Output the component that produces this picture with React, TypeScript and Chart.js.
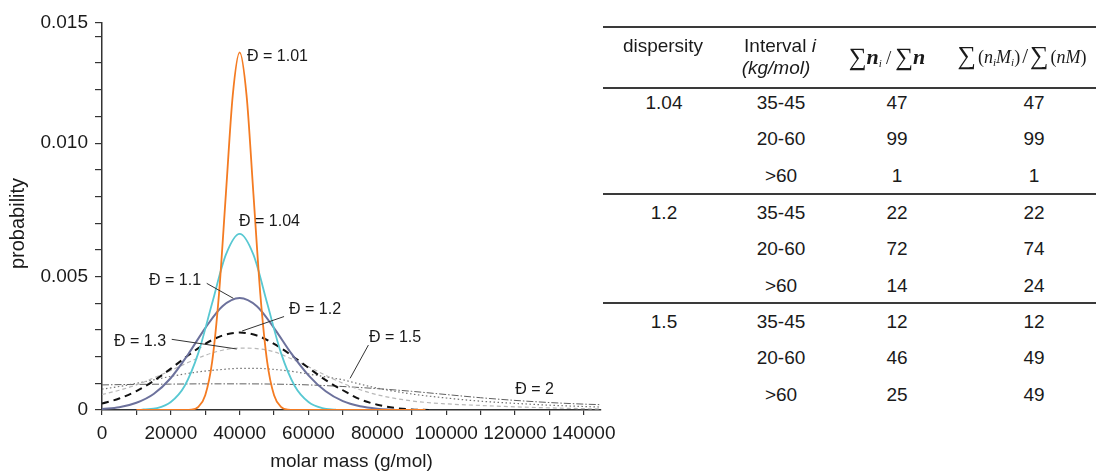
import React, { useEffect, useRef } from 'react';
import { Chart, registerables } from 'chart.js';

Chart.register(...registerables);

const FONT = '"Liberation Sans", Arial, Helvetica, sans-serif';
const SERIF = '"Liberation Serif", "Times New Roman", serif';

// ---- curve data (molar mass g/mol -> probability) ----
const massD101 = [10000, 20000, 24000, 26000, 28000, 30000, 32000, 34000, 36000, 38000, 40000, 42000, 44000, 46000, 48000, 50000, 52000, 54000, 56000, 60000, 94000];
const probD101 = [0, 0, 0, 0.00001, 0.00012, 0.00055, 0.0018, 0.00435, 0.0081, 0.0118, 0.0134, 0.0118, 0.0081, 0.00435, 0.0018, 0.00055, 0.00012, 0.00001, 0, 0, 0];

const massD104 = [11000, 12000, 16000, 20000, 24000, 28000, 32000, 36000, 40000, 44000, 48000, 52000, 56000, 60000, 64000, 68000];
const probD104 = [0, 0.00002, 0.00007, 0.0003, 0.0009, 0.00214, 0.004, 0.00582, 0.0066, 0.00582, 0.004, 0.00214, 0.0009, 0.0003, 0.00007, 0.00001];

const massD11 = [0, 5000, 10000, 15000, 20000, 25000, 30000, 35000, 40000, 45000, 50000, 55000, 60000, 65000, 70000, 75000, 80000, 85000];
const probD11 = [0.00004, 0.0001, 0.00027, 0.0006, 0.0012, 0.00208, 0.00307, 0.00389, 0.0042, 0.00389, 0.00307, 0.00212, 0.0013, 0.0007, 0.00033, 0.00014, 0.00005, 0.00001];

const massD12 = [0, 5000, 10000, 15000, 20000, 25000, 30000, 35000, 40000, 45000, 50000, 55000, 60000, 65000, 70000, 75000, 80000, 85000, 90000, 95000];
const probD12 = [0.00024, 0.00043, 0.00071, 0.00109, 0.00155, 0.00204, 0.00248, 0.00279, 0.0029, 0.00279, 0.00248, 0.00205, 0.00158, 0.00112, 0.00074, 0.0004, 0.0002, 0.00008, 0.00002, 0];

const massD13 = [0, 5000, 10000, 15000, 20000, 25000, 30000, 35000, 40000, 45000, 50000, 55000, 60000, 65000, 70000, 75000, 80000, 90000, 100000, 110000, 120000, 130000, 140000, 145000];
const probD13 = [0.00058, 0.00074, 0.00094, 0.0012, 0.00148, 0.00178, 0.00205, 0.00224, 0.00232, 0.0023, 0.00218, 0.00192, 0.00162, 0.0013, 0.001, 0.00076, 0.00057, 0.00034, 0.00023, 0.00017, 0.00012, 0.00008, 0.00005, 0.00004];

const massD15 = [0, 5000, 10000, 15000, 20000, 25000, 30000, 35000, 40000, 45000, 50000, 55000, 60000, 65000, 70000, 75000, 80000, 90000, 100000, 110000, 120000, 130000, 140000, 145000];
const probD15 = [0.00078, 0.00088, 0.001, 0.00113, 0.00126, 0.00137, 0.00146, 0.00152, 0.00156, 0.00156, 0.00152, 0.00145, 0.00135, 0.00124, 0.00113, 0.00097, 0.00082, 0.0006, 0.00045, 0.00033, 0.00025, 0.00018, 0.00013, 0.00011];

const massD2 = [0, 10000, 20000, 30000, 40000, 50000, 60000, 70000, 80000, 90000, 100000, 110000, 120000, 130000, 140000, 145000];
const probD2 = [0.00094, 0.00096, 0.00097, 0.00098, 0.00098, 0.00097, 0.00094, 0.00088, 0.0008, 0.0007, 0.00058, 0.00046, 0.00036, 0.00028, 0.00022, 0.0002];

// ---- axis ticks ----
const xTickValues = [0, 10000, 20000, 30000, 40000, 50000, 60000, 70000, 80000, 90000, 100000, 110000, 120000, 130000, 140000];
const xTickLabels = ['0', '', '20000', '', '40000', '', '60000', '', '80000', '', '100000', '', '120000', '', '140000'];
const yTickValues = [0, 0.001, 0.002, 0.003, 0.004, 0.005, 0.006, 0.007, 0.008, 0.009, 0.01, 0.011, 0.012, 0.013, 0.014, 0.0145];
const yTickLabels = ['0', '', '', '', '', '0.005', '', '', '', '', '0.010', '', '', '', '', '0.015'];

// ---- curve labels ----
const curveLabelTexts = ['Đ = 1.01', 'Đ = 1.04', 'Đ = 1.1', 'Đ = 1.2', 'Đ = 1.3', 'Đ = 1.5', 'Đ = 2'];

// ---- table ----
const dispersities = ['1.04', '1.2', '1.5'];
const intervals = ['35-45', '20-60', '>60'];
const numberFractions = [[47, 99, 1], [22, 72, 14], [12, 46, 25]];
const massFractions = [[47, 99, 1], [22, 74, 24], [12, 49, 49]];

// layout of the labels (data coordinates)
const labelAnchors = [
  { m: 42150, p: 0.013258 },
  { m: 39826, p: 0.00706 },
  { m: 13663, p: 0.00485 },
  { m: 54360, p: 0.003745 },
  { m: 3488, p: 0.002566 },
  { m: 77616, p: 0.002697 },
  { m: 120058, p: 0.000749 },
];
const leaderLines = [
  null,
  null,
  [30436, 0.004745, 38169, 0.004184],
  [52907, 0.003502, 40698, 0.002959],
  [20262, 0.002648, 39157, 0.002285],
  [77413, 0.002434, 72093, 0.001187],
  null,
];

const labelPlugin = {
  id: 'curveLabels',
  afterDatasetsDraw(chart: any) {
    const { ctx, scales, chartArea } = chart;
    const x = scales.x;
    const y = scales.y;
    ctx.save();
    ctx.strokeStyle = '#333';
    ctx.lineWidth = 1;
    leaderLines.forEach((l) => {
      if (!l) return;
      ctx.beginPath();
      ctx.moveTo(x.getPixelForValue(l[0]), y.getPixelForValue(l[1]));
      ctx.lineTo(x.getPixelForValue(l[2]), y.getPixelForValue(l[3]));
      ctx.stroke();
    });
    ctx.fillStyle = '#1a1a1a';
    ctx.font = `16px ${FONT}`;
    ctx.textAlign = 'left';
    ctx.textBaseline = 'middle';
    curveLabelTexts.forEach((t, i) => {
      const a = labelAnchors[i];
      ctx.fillText(t, x.getPixelForValue(a.m), y.getPixelForValue(a.p));
    });
    // y axis title
    ctx.translate(chartArea.left - 84, (chartArea.top + chartArea.bottom) / 2 + 7);
    ctx.rotate(-Math.PI / 2);
    ctx.textAlign = 'center';
    ctx.font = `20px ${FONT}`;
    ctx.fillText('probability', 0, 0);
    ctx.restore();
  },
};

function pts(m: number[], p: number[]) {
  return m.map((v, i) => ({ x: v, y: p[i] }));
}

function DistributionChart() {
  const ref = useRef<HTMLCanvasElement>(null);
  useEffect(() => {
    const canvas = ref.current!;
    const chart = new Chart(canvas, {
      type: 'line',
      data: {
        datasets: [
          { label: 'Đ = 1.01', data: pts(massD101, probD101), borderColor: '#f47b22', borderWidth: 1.8 },
          { label: 'Đ = 1.04', data: pts(massD104, probD104), borderColor: '#58c8d2', borderWidth: 1.8 },
          { label: 'Đ = 1.1', data: pts(massD11, probD11), borderColor: '#6c719c', borderWidth: 2 },
          { label: 'Đ = 1.2', data: pts(massD12, probD12), borderColor: '#111111', borderWidth: 2, borderDash: [7, 5] },
          { label: 'Đ = 1.3', data: pts(massD13, probD13), borderColor: '#b8b8b8', borderWidth: 1.2, borderDash: [4, 3] },
          { label: 'Đ = 1.5', data: pts(massD15, probD15), borderColor: '#707070', borderWidth: 1.2, borderDash: [1.5, 2.5] },
          { label: 'Đ = 2', data: pts(massD2, probD2), borderColor: '#606060', borderWidth: 1, borderDash: [7, 2, 1.5, 2] },
        ] as any,
      },
      options: {
        responsive: false,
        animation: false,
        elements: { point: { radius: 0 }, line: { cubicInterpolationMode: 'monotone', fill: false } },
        plugins: { legend: { display: false }, tooltip: { enabled: false } },
        layout: { padding: { top: 23, right: 39, left: 0, bottom: 0 } },
        scales: {
          x: {
            type: 'linear',
            min: 0,
            max: 145000,
            afterFit: (s: any) => { s.height = 66; },
            afterBuildTicks: (s: any) => { s.ticks = xTickValues.map((v) => ({ value: v })); },
            ticks: {
              autoSkip: false,
              maxRotation: 0,
              padding: 7,
              color: '#1a1a1a',
              font: { family: FONT, size: 19 },
              callback: (v: any, i: number) => xTickLabels[i],
            },
            grid: { drawOnChartArea: false, drawTicks: true, tickLength: 5, color: '#333', lineWidth: 1.2 },
            border: { display: true, color: '#333', width: 1.5 },
            title: { display: true, text: 'molar mass (g/mol)', color: '#1a1a1a', font: { family: FONT, size: 19 }, padding: { top: 0, bottom: 3 } },
          },
          y: {
            type: 'linear',
            min: 0,
            max: 0.0145,
            afterFit: (s: any) => { s.width = 102; },
            afterBuildTicks: (s: any) => { s.ticks = yTickValues.map((v) => ({ value: v })); },
            ticks: {
              autoSkip: false,
              padding: 7,
              color: '#1a1a1a',
              font: { family: FONT, size: 19 },
              callback: (v: any, i: number) => yTickLabels[i],
            },
            grid: { drawOnChartArea: false, drawTicks: true, tickLength: 7, color: '#333', lineWidth: 1.2 },
            border: { display: true, color: '#333', width: 1.5 },
          },
        },
      } as any,
      plugins: [labelPlugin],
    });
    return () => chart.destroy();
  }, []);
  return (
    <canvas
      ref={ref}
      width={640}
      height={476}
      style={{ position: 'absolute', left: 0, top: 0, width: 640, height: 476 }}
    />
  );
}

const textBase: React.CSSProperties = {
  position: 'absolute',
  transform: 'translate(-50%, -50%)',
  whiteSpace: 'nowrap',
  fontFamily: FONT,
  fontSize: 19,
  lineHeight: 1,
  color: '#1a1a1a',
};

function Cell({ x, y, children, style }: { x: number; y: number; children: any; style?: React.CSSProperties }) {
  return <div style={{ ...textBase, left: x, top: y, ...style }}>{children}</div>;
}

function Rule({ y }: { y: number }) {
  return <div style={{ position: 'absolute', left: 603, width: 493, top: y - 1, height: 2, background: '#3a3a3a' }} />;
}

const sigma: React.CSSProperties = { fontSize: 25, verticalAlign: -1 };
const subI: React.CSSProperties = { fontSize: 11, fontStyle: 'italic', verticalAlign: -3 };

function FractionTable() {
  const groupY = [101.5, 211.5, 320.5];
  const rowStep = 36.5;
  return (
    <>
      <Rule y={27} />
      <Rule y={87.5} />
      <Rule y={193.5} />
      <Rule y={302.5} />
      <Cell x={663} y={45}>dispersity</Cell>
      <Cell x={780} y={45}>Interval <i>i</i></Cell>
      <Cell x={776} y={67}><i>(kg/mol)</i></Cell>
      <Cell x={887} y={56} style={{ fontFamily: SERIF, fontSize: 22 }}>
        <span style={sigma}>∑</span>
        <i style={{ fontWeight: 600 }}>n</i>
        <sub style={subI}>i</sub>
        <span style={{ fontSize: 19, margin: '0 4px' }}>/</span>
        <span style={sigma}>∑</span>
        <i style={{ fontWeight: 600 }}>n</i>
      </Cell>
      <Cell x={1022} y={56} style={{ fontFamily: SERIF, fontSize: 18 }}>
        <span style={{ ...sigma, fontSize: 26, marginRight: 2 }}>∑</span>
        <span>(<i>n</i><sub style={subI}>i</sub><i>M</i><sub style={subI}>i</sub>)</span>
        <span style={{ fontSize: 21, margin: '0 2px' }}>/</span>
        <span style={{ ...sigma, fontSize: 26, marginRight: 2 }}>∑</span>
        <span>(<i>nM</i>)</span>
      </Cell>
      {dispersities.map((d, g) => (
        <React.Fragment key={d}>
          <Cell x={664} y={groupY[g]}>{d}</Cell>
          {intervals.map((iv, r) => (
            <React.Fragment key={iv}>
              <Cell x={781} y={groupY[g] + r * rowStep}>{iv}</Cell>
              <Cell x={897} y={groupY[g] + r * rowStep}>{numberFractions[g][r]}</Cell>
              <Cell x={1034} y={groupY[g] + r * rowStep}>{massFractions[g][r]}</Cell>
            </React.Fragment>
          ))}
        </React.Fragment>
      ))}
    </>
  );
}

export default function App() {
  return (
    <div style={{ position: 'fixed', left: 0, top: 0, width: 1096, height: 476, background: '#fff', overflow: 'hidden' }}>
      <DistributionChart />
      <FractionTable />
    </div>
  );
}
